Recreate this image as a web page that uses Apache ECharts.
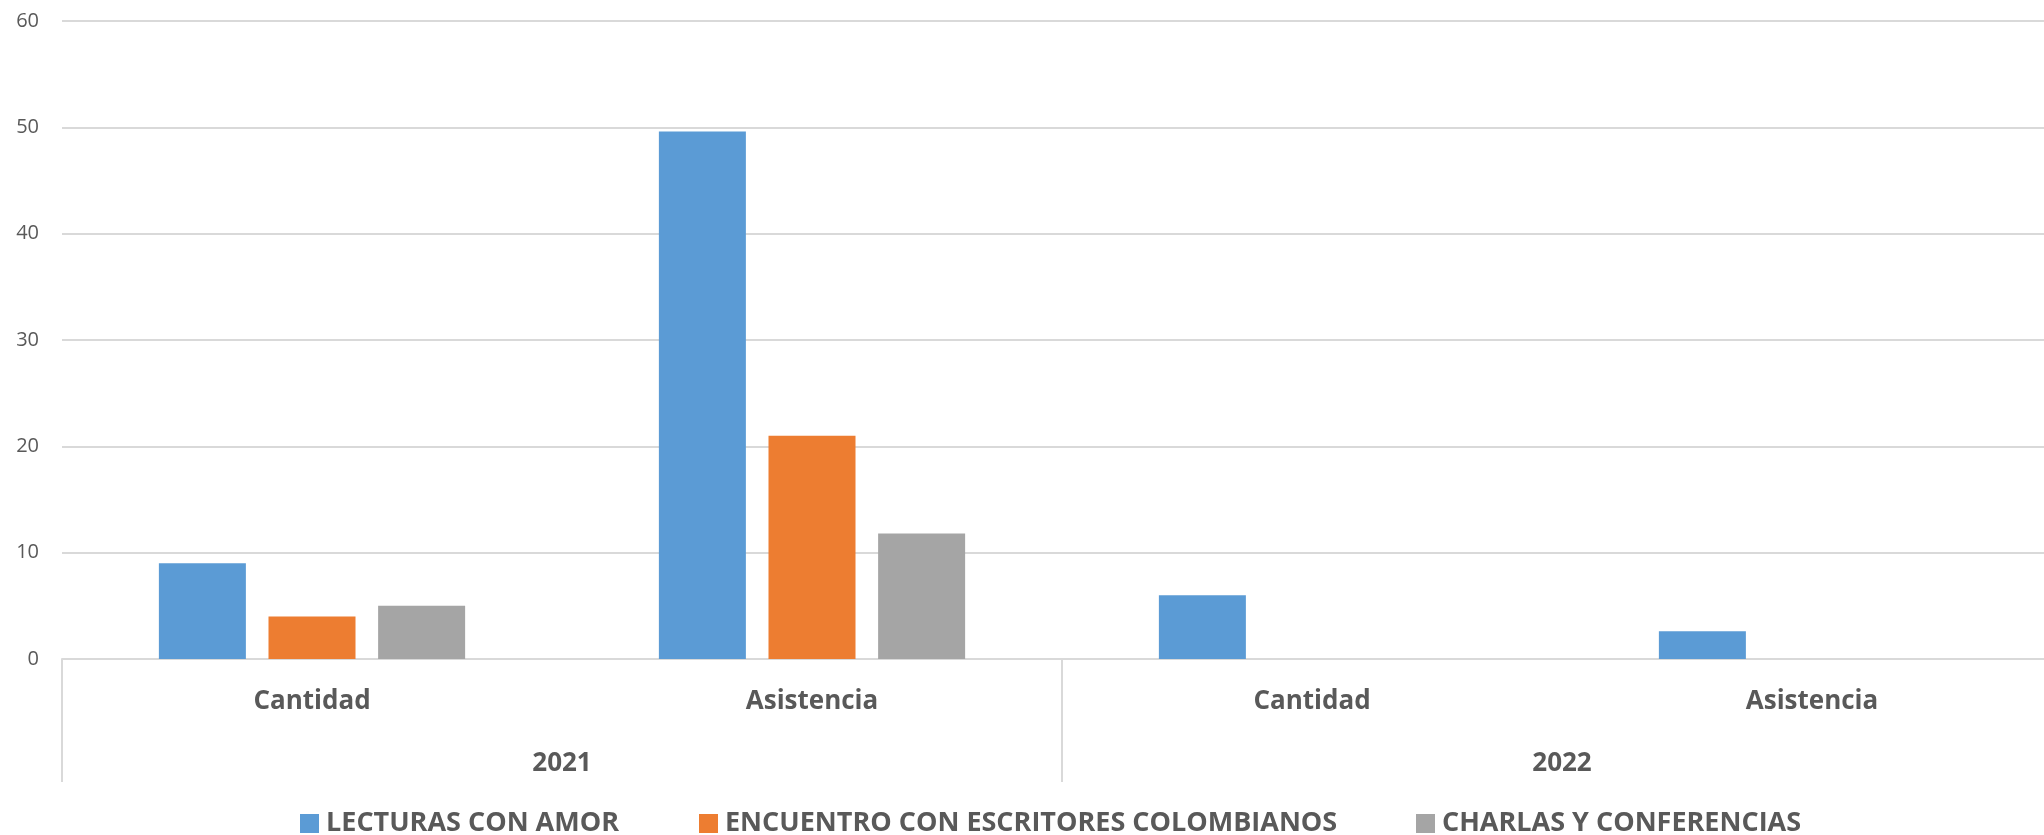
<!DOCTYPE html>
<html>
<head>
<meta charset="utf-8">
<script src="https://cdn.jsdelivr.net/npm/echarts@6/dist/echarts.min.js"></script>
<style>html,body{margin:0;padding:0;background:#fff}#c{width:2044px;height:835px}</style>
</head>
<body>
<div id="c"></div>
<script>
const categories = ['Cantidad', 'Asistencia', 'Cantidad', 'Asistencia'];
const years = ['2021', '2022'];
const seriesNames = ['LECTURAS CON AMOR', 'ENCUENTRO CON ESCRITORES COLOMBIANOS', 'CHARLAS Y CONFERENCIAS'];
const lecturas = [9, 49.6, 6, 2.6];
const encuentro = [4, 21, null, null];
const charlas = [5, 11.8, null, null];
const yTicks = [0, 10, 20, 30, 40, 50, 60];

const colors = ['#5B9BD5', '#ED7D31', '#A5A5A5'];
const FONT = '"Open Sans"';
const TXT = '#595959';

const chart = echarts.init(document.getElementById('c'), null, {renderer: 'canvas'});
const values = [lecturas, encuentro, charlas];
const legendLefts = [300, 699, 1416];

chart.setOption({
  animation: false,
  color: colors,
  grid: {left: 62, width: 2000, top: 21, height: 638, containLabel: false, outerBoundsMode: 'none'},
  legend: seriesNames.map((n, i) => ({
    data: [n], left: legendLefts[i], top: 810, icon: 'rect', itemWidth: 19, itemHeight: 19,
    itemGap: 0, padding: 0,
    textStyle: {fontFamily: FONT, fontWeight: 'bold', fontSize: 27, color: TXT, padding: [0, 0, 0, 2]}
  })),
  xAxis: [{
    type: 'category', data: categories, position: 'bottom',
    axisLine: {show: true, lineStyle: {color: '#d9d9d9', width: 2}},
    axisTick: {show: false},
    axisLabel: {interval: 0, margin: 43, verticalAlign: 'middle', fontFamily: FONT, fontWeight: 'bold', fontSize: 26, color: TXT}
  }, {
    type: 'category', data: years, position: 'bottom', gridIndex: 0,
    axisLine: {show: false},
    axisTick: {show: true, length: 123, interval: 0, lineStyle: {color: '#d9d9d9', width: 2}},
    axisLabel: {interval: 0, margin: 105, verticalAlign: 'middle', fontFamily: FONT, fontWeight: 'bold', fontSize: 26, color: TXT}
  }],
  yAxis: {
    type: 'value', min: yTicks[0], max: yTicks[yTicks.length - 1], interval: 10,
    axisLine: {show: false}, axisTick: {show: false},
    splitLine: {lineStyle: {color: '#d9d9d9', width: 2}},
    axisLabel: {margin: 23, fontFamily: FONT, fontSize: 20, color: TXT}
  },
  series: seriesNames.map((n, i) => ({
    name: n, type: 'bar', xAxisIndex: 0, data: values[i],
    barWidth: 87, barGap: '26%',
    itemStyle: {color: colors[i]}
  }))
});
</script>
</body>
</html>
